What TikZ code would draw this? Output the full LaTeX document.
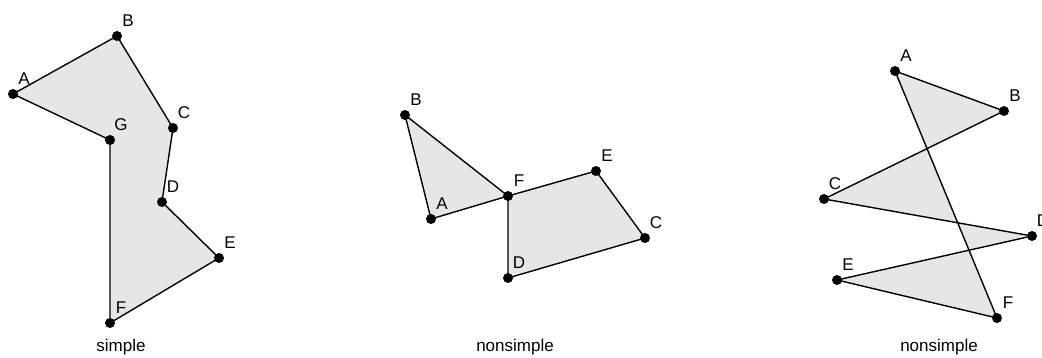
\documentclass[tikz,border=0pt]{standalone}
\usepackage{fontspec}
\setmainfont{Liberation Sans}
\usepackage{xcolor}
\usepackage{tikz}
\definecolor{polyfill}{HTML}{E6E6E6}
\tikzset{
  vtx/.style={circle, fill=black, inner sep=0pt, minimum size=10pt},
  lbl/.style={inner sep=0pt, font=\fontsize{17}{20}\selectfont},
  caption/.style={inner sep=0pt, anchor=base, font=\fontsize{17}{20}\selectfont},
  poly/.style={draw=black, line width=1.4pt, fill=polyfill, line join=round}
}

\begin{document}
\begin{tikzpicture}[x=1pt, y=-1pt]
  \useasboundingbox (0,0) rectangle (1042,358);

  % simple polygon
  \foreach \n/\x/\y in {A/13/94, B/117/36, C/173/128, D/162/202, E/219/258, F/110/323, G/110/140}
    \coordinate (p\n) at (\x,\y);
  \draw[poly] (pA) -- (pB) -- (pC) -- (pD) -- (pE) -- (pF) -- (pG) -- cycle;
  \foreach \n in {A,B,C,D,E,F,G} {
    \node[vtx] (v\n) at (p\n) {};
    \node[lbl] (l\n) at ([shift={(11,-15)}]p\n) {\n};
  }
  \node[caption] (capL) at (121,351) {simple};

  % nonsimple, touching at F
  \foreach \n/\x/\y in {A/431/219, B/405/115, C/645/238, D/508/278, E/596/171, F/508/196}
    \coordinate (q\n) at (\x,\y);
  \draw[poly] (qA) -- (qB) -- (qF) -- (qE) -- (qC) -- (qD) -- (qF) -- cycle;
  \foreach \n in {A,B,C,D,E,F} {
    \node[vtx] (w\n) at (q\n) {};
    \node[lbl] (m\n) at ([shift={(11,-15)}]q\n) {\n};
  }
  \node[caption] (capM) at (515,351) {nonsimple};

  % nonsimple, self-crossing
  \foreach \n/\x/\y in {A/895/71, B/1004/111, C/824/199, D/1032/236, E/837/280, F/997/318}
    \coordinate (r\n) at (\x,\y);
  \draw[poly] (rA) -- (rB) -- (rC) -- (rD) -- (rE) -- (rF) -- cycle;
  \foreach \n in {A,B,C,D,E,F} {
    \node[vtx] (u\n) at (r\n) {};
    \node[lbl] (n\n) at ([shift={(11,-15)}]r\n) {\n};
  }
  \node[caption] (capR) at (939,351) {nonsimple};
\end{tikzpicture}
\end{document}
